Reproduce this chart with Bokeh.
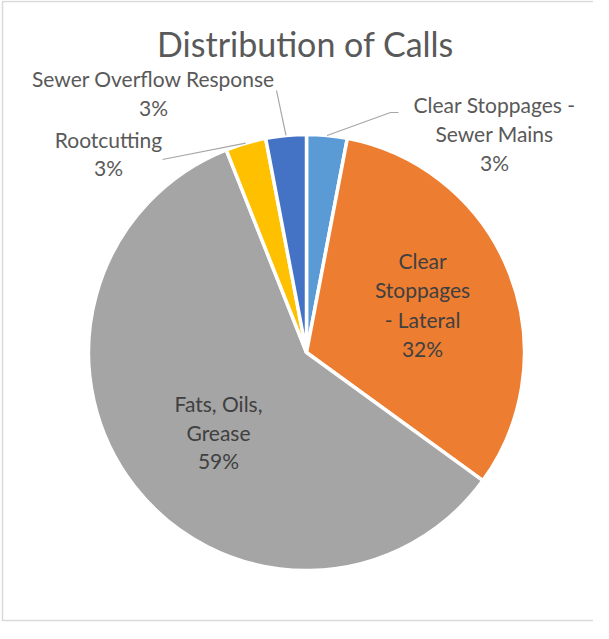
import math
from bokeh.plotting import figure
from bokeh.models import Range1d, ColumnDataSource
from bokeh.core.properties import value
from bokeh.embed import file_html
from bokeh.resources import INLINE

# ---- data ----
categories = ["Clear Stoppages - Sewer Mains", "Clear Stoppages - Lateral",
              "Fats, Oils, Grease", "Rootcutting", "Sewer Overflow Response"]
values = [3, 32, 59, 3, 3]
pct_labels = ["3%", "32%", "59%", "3%", "3%"]
name_lines = [["Clear Stoppages -", "Sewer Mains"],
              ["Clear", "Stoppages", "- Lateral"],
              ["Fats, Oils,", "Grease"],
              ["Rootcutting"],
              ["Sewer Overflow Response"]]
colors = ["#5B9BD5", "#ED7D31", "#A5A5A5", "#FFC000", "#4472C4"]
title_text = "Distribution of Calls"

# ---- layout (page pixel coords; data y = 639 - page y) ----
W, H = 593, 623
def Y(py):
    return 639 - py

cx, cy, R = 314, 360, 218
label_pos = [(502, 112, 29, "out"), (430, 268, 29.3, "in"), (226, 411, 28.5, "in"),
             (116, 147, 28, "out"), (161, 86, 29, "out")]
leader_end = {0: [(398, 120), (406, 120)], 3: [(170, 167)], 4: [(284, 98)]}
FONT = "Lato"

p = figure(width=W, height=H, output_backend="svg", toolbar_location=None,
           x_range=Range1d(8, 8 + W), y_range=Range1d(Y(8 + H), Y(8)),
           min_border=0, outline_line_color=None)
p.axis.visible = False
p.grid.visible = False
p.background_fill_color = "white"
p.border_fill_color = "white"

# chart frame
p.quad(left=[10], right=[640], top=[Y(9)], bottom=[Y(628)],
       fill_color=None, line_color="#D9D9D9", line_width=1.5)

# wedges
total = sum(values)
starts, ends, mids = [], [], []
acc = 0
for v in values:
    s = math.pi / 2 - acc / total * 2 * math.pi
    e = math.pi / 2 - (acc + v) / total * 2 * math.pi
    starts.append(s); ends.append(e); mids.append((s + e) / 2)
    acc += v
src = ColumnDataSource(dict(start=starts, end=ends, color=colors, cat=categories))
p.wedge(x=cx, y=Y(cy), radius=R, start_angle="start", end_angle="end",
        direction="clock", fill_color="color", line_color="white", line_width=3.5,
        source=src)

# leader lines
for i, pts in leader_end.items():
    xs = [cx + R * math.cos(mids[i])]
    ys = [Y(cy) + R * math.sin(mids[i])]
    for (px, py) in pts:
        xs.append(px); ys.append(Y(py))
    p.line(xs, ys, line_color="#A6A6A6", line_width=1.2)

# title
p.text(x=[313], y=[Y(51)], text=[title_text], text_font=value(FONT),
       text_font_size="34px", text_color="#595959", text_align="center",
       text_baseline="middle")

# data labels
for i, (lx, ly, dy, kind) in enumerate(label_pos):
    lines = name_lines[i] + [pct_labels[i]]
    col = "#595959" if kind == "out" else "#404040"
    p.text(x=[lx] * len(lines), y=[Y(ly + k * dy) for k in range(len(lines))],
           text=lines, text_font=value(FONT), text_font_size="21px",
           text_color=col, text_align="center", text_baseline="middle")

open("out.html", "w").write(file_html(p, INLINE))
